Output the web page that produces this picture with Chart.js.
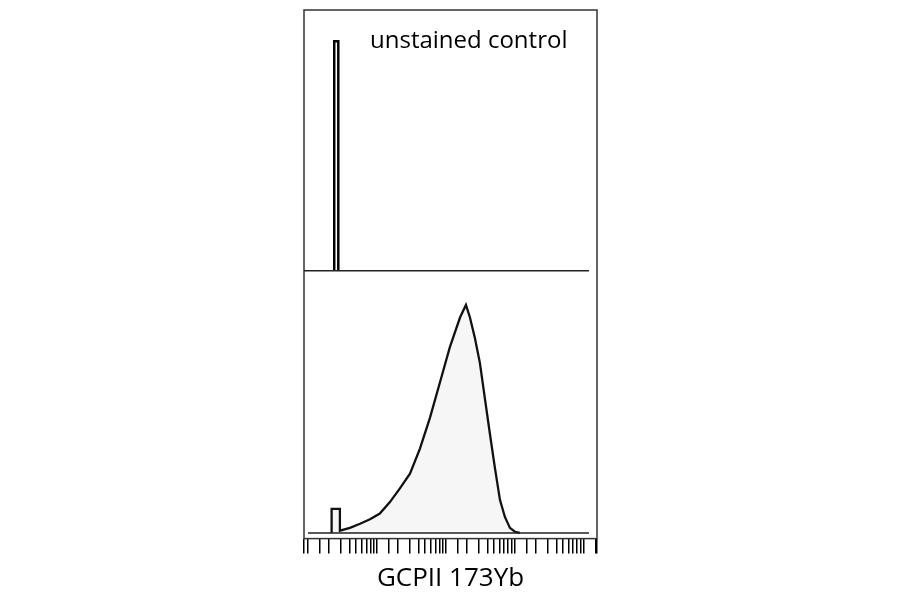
<!DOCTYPE html>
<html><head><meta charset="utf-8">
<script src="https://cdn.jsdelivr.net/npm/chart.js@4"></script>
<style>html,body{margin:0;background:#fff}#w{width:900px;height:594px}</style>
</head><body><div id="w"><canvas id="c"></canvas></div>
<script>
// Top panel: unstained control spike (intensity, % of max)
const ctrlX = [2.4, 2.4, 2.75, 2.75];
const ctrlY = [0, 88, 88, 0];
// Bottom panel: GCPII 173Yb histogram (intensity, % of max)
const histX = [2.2, 2.2, 2.9, 2.9, 4.06, 5.68, 7.92, 11.0, 15.4, 21.5, 30.1, 42.0, 58.6, 81.8, 114, 160, 195, 223, 263, 311, 367, 434, 513, 607, 716, 847, 1000, 1181];
const histY = [0, 10.5, 10.5, 1, 2.2, 4, 6, 8.5, 13.5, 19.5, 26, 37, 50.5, 66, 81.5, 94.5, 100, 94.5, 85.5, 74.5, 59, 43.5, 28.5, 14.5, 7, 2.2, 0.5, 0];
const xLabel = "GCPII 173Yb";
const panelLabel = "unstained control";

const pts = (xs, ys) => xs.map((x, i) => ({x, y: ys[i]}));
const frame = {
  id: 'frame',
  afterDatasetsDraw(ch) {
    const c = ch.ctx, a = ch.chartArea, yb = ch.scales.yb, yt = ch.scales.yt;
    c.save();
    c.strokeStyle = '#333'; c.lineWidth = 1.5;
    c.strokeRect(a.left, a.top, a.right - a.left, a.bottom - a.top);
    c.strokeStyle = '#222'; c.lineWidth = 1.5;
    c.beginPath(); c.moveTo(a.left, yt.bottom); c.lineTo(a.right - 8, yt.bottom);
    const b = yb.getPixelForValue(0);
    c.moveTo(a.left + 4, b); c.lineTo(a.right - 8, b); c.stroke();
    c.fillStyle = '#000'; c.font = '24px "Open Sans"'; c.textBaseline = 'middle';
    c.fillText(panelLabel, a.left + 66, a.top + 31);
    c.restore();
  }
};
new Chart(document.getElementById('c'), {
  type: 'scatter',
  data: { datasets: [
    { data: pts(ctrlX, ctrlY), yAxisID: 'yt', showLine: true, borderColor: '#000', borderWidth: 2.5, pointRadius: 0, fill: false },
    { data: pts(histX, histY), yAxisID: 'yb', showLine: true, borderColor: '#111', borderWidth: 2.3, pointRadius: 0, fill: 'origin', backgroundColor: '#f6f6f6' }
  ]},
  options: {
    animation: false, responsive: true, maintainAspectRatio: false,
    layout: { padding: { left: 304, right: 303, top: 10, bottom: 0 } },
    plugins: { legend: { display: false }, tooltip: { enabled: false } },
    scales: {
      x: { type: 'logarithmic', min: 0.875, max: 15500,
        border: { display: false },
        grid: { drawOnChartArea: false, drawTicks: true, tickLength: 15, color: '#000', lineWidth: 1.5 },
        ticks: { display: true, color: 'rgba(0,0,0,0)', font: { size: 1 }, autoSkip: false, maxRotation: 0,
          callback: () => '' },
        title: { display: true, text: xLabel, color: '#000', font: { family: 'Open Sans', size: 26 }, padding: { top: 2, bottom: 0 } } },
      yb: { type: 'linear', min: -2.5, max: 115, stack: 'p', stackWeight: 266, offset: false, display: false },
      yt: { type: 'linear', min: 0, max: 100, stack: 'p', stackWeight: 259, offset: false, display: false }
    }
  },
  plugins: [frame]
});
</script></body></html>
